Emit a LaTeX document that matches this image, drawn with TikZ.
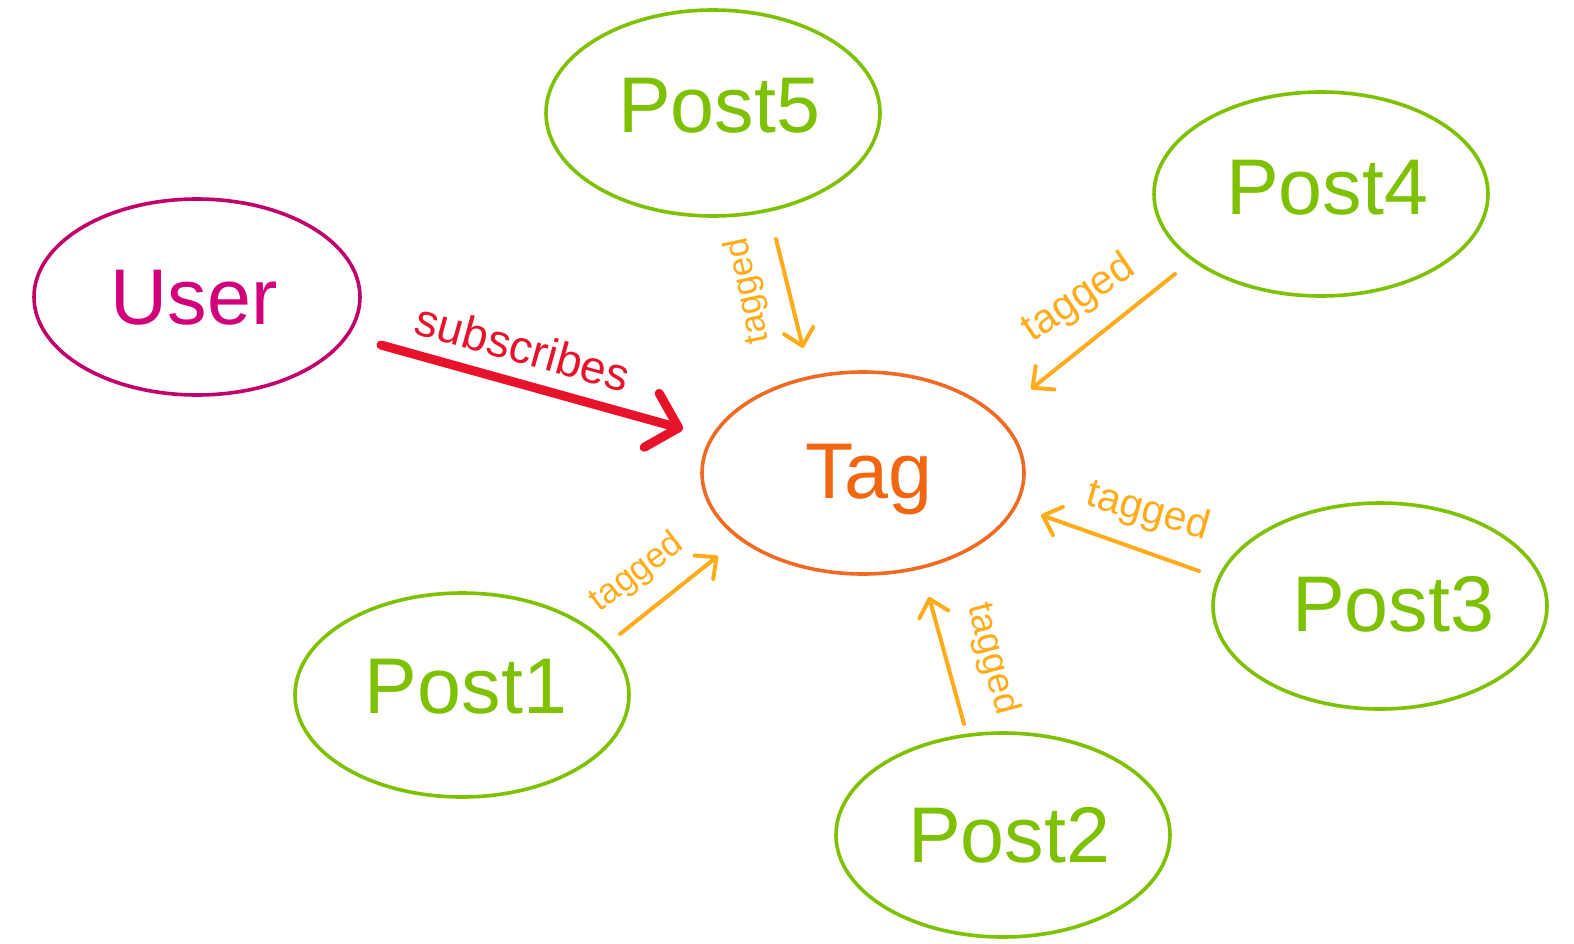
\documentclass[tikz,border=0pt]{standalone}
\usepackage{fontspec}
\setmainfont{Liberation Sans}
\usetikzlibrary{shapes.geometric,arrows.meta}
\definecolor{usercol}{HTML}{D1007A}
\definecolor{userline}{HTML}{C2006B}
\definecolor{postcol}{HTML}{7DC100}
\definecolor{tagcol}{HTML}{F26511}
\definecolor{tagline}{HTML}{F06A22}
\definecolor{edgecol}{HTML}{FFAB1A}
\definecolor{subcol}{HTML}{E8132B}
\tikzset{
  ent/.style={ellipse, draw, line width=1.8pt, inner sep=0pt,
    minimum width=167pt, minimum height=102pt},
  enttext/.style={inner sep=0pt, font=\fontsize{39.5}{41}\selectfont},
  postnode/.style={ent, draw=postcol},
  tagrel/.style={draw=edgecol, line width=2pt, line cap=round,
    -{Straight Barb[length=8pt, width=15pt, round]}},
  taglbl/.style={text=edgecol, inner sep=0pt},
  subrel/.style={draw=subcol, line width=4.5pt, line cap=round,
    -{Straight Barb[length=14pt, width=28pt, round]}},
}
\begin{document}
\begin{tikzpicture}[x=0.5pt, y=-0.5pt]
\useasboundingbox (0,0) rectangle (1574,943);
% entities
\node[ent, draw=userline, minimum width=163pt, minimum height=98pt,
  label={[name=usert, enttext, text=usercol, xshift=-1.5pt, yshift=-0.3pt]center:User}] (user) at (197,297) {};
\node[ent, draw=tagline, minimum width=161pt, minimum height=101pt,
  label={[name=tagt, enttext, text=tagcol, xshift=3pt, yshift=-3.5pt]center:Tag}] (tag) at (863,473) {};
\node[postnode, minimum height=103pt,
  label={[name=post5t, enttext, text=postcol, xshift=3pt, yshift=3.6pt]center:Post5}] (post5) at (713,113) {};
\node[postnode,
  label={[name=post4t, enttext, text=postcol, xshift=3pt, yshift=3.1pt]center:Post4}] (post4) at (1321,194) {};
\node[postnode, minimum height=103pt,
  label={[name=post3t, enttext, text=postcol, xshift=6.5pt, yshift=0.9pt]center:Post3}] (post3) at (1380,606) {};
\node[postnode,
  label={[name=post1t, enttext, text=postcol, xshift=2pt, yshift=4.1pt]center:Post1}] (post1) at (462,695) {};
\node[postnode,
  label={[name=post2t, enttext, text=postcol, xshift=3pt, yshift=0pt]center:Post2}] (post2) at (1003,835) {};
% connector ends
\coordinate (s0) at (381,345);
\coordinate (s1) at (683,429);
\coordinate (a5) at (776,239);
\coordinate (b5) at (803,348);
\coordinate (a4) at (1175,274);
\coordinate (b4) at (1031,389);
\coordinate (a3) at (1199,571);
\coordinate (b3) at (1041,515);
\coordinate (a2) at (964,724);
\coordinate (b2) at (929,597);
\coordinate (a1) at (620,634);
\coordinate (b1) at (718,556);
% connectors
\draw[subrel] (s0) -- (s1);
\draw[tagrel] (a5) -- (b5);
\draw[tagrel] (a4) -- (b4);
\draw[tagrel] (a3) -- (b3);
\draw[tagrel] (a2) -- (b2);
\draw[tagrel] (a1) -- (b1);
% labels
\node[text=subcol, inner sep=0pt, rotate=-15.5, font=\fontsize{23}{25}\selectfont] (lsub) at (523,347) {subscribes};
\node[taglbl, rotate=102, font=\fontsize{17.5}{19}\selectfont] (l5) at (749,291) {tagged};
\node[taglbl, rotate=34, font=\fontsize{20.5}{22}\selectfont] (l4) at (1079,299) {tagged};
\node[taglbl, rotate=-16, font=\fontsize{20.5}{22}\selectfont] (l3) at (1148,512) {tagged};
\node[taglbl, rotate=-75, font=\fontsize{18.5}{20}\selectfont] (l2) at (992,659) {tagged};
\node[taglbl, rotate=37, font=\fontsize{17.5}{19}\selectfont] (l1) at (637,573) {tagged};
\end{tikzpicture}
\end{document}
